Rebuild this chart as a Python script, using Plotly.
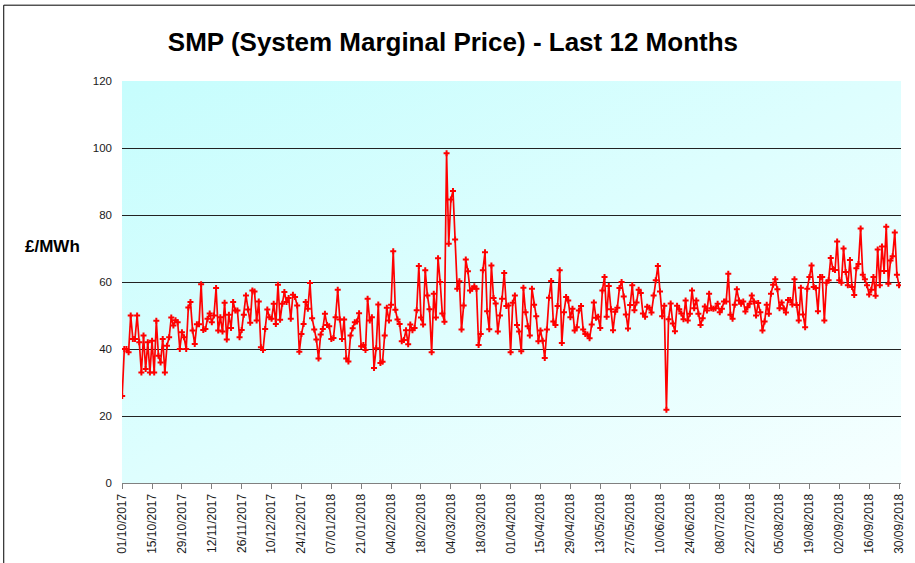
import base64
import pandas as pd
import plotly.graph_objects as go

start_date = "2017-10-01"

smp_values = [
    26, 40, 40, 39, 50, 43, 43, 50, 42, 33, 44, 34, 42, 33, 42.5, 33, 48.4, 38, 36, 43,
    33, 41, 43.5, 49.4, 47, 48.6, 48, 40, 45, 43.5, 40, 52.4, 54, 45.5, 41.5, 47.4, 47.4, 59.3, 45.7, 46,
    49, 50.6, 48, 50, 58.2, 45.5, 49.5, 45.2, 53.8, 42.8, 50.2, 46.3, 54, 51.5, 51.5, 43.5, 45.7, 50.2, 56, 51.8,
    47.8, 57.5, 57.2, 48.5, 54.2, 40.5, 39.7, 46, 51.8, 49.5, 49, 53.5, 47.5, 59.2, 48.7, 53.5, 57, 54, 55.2, 49,
    56.2, 55.5, 53, 39.2, 44.5, 47.5, 54, 52, 59.7, 49.2, 45.8, 42.8, 37.2, 44.3, 46, 50.5, 47.2, 46.8, 43, 43.3,
    49.5, 57.7, 48.8, 43, 48.8, 37.2, 36.3, 44, 46.2, 48, 48.2, 50.7, 40.8, 41.2, 39.7, 55, 48.5, 49.5, 34.3, 40.2,
    53.3, 35.8, 36.2, 44, 52.3, 48.5, 53.2, 69.2, 51.7, 48.8, 47.5, 42.3, 42.7, 45.6, 41.4, 47.3, 45.6, 46.3, 51.6, 64.8,
    49.4, 47.3, 63.5, 56, 51.9, 39, 56.5, 49.4, 67.1, 60, 50.6, 48.1, 98.4, 71.4, 84.6, 87.2, 72.7, 58, 60.2, 45.8,
    53, 66.7, 63.2, 57.5, 58, 58.7, 58, 41.2, 44.5, 63.5, 68.9, 51.3, 45.9, 64.9, 55.2, 53.6, 45.2, 50, 55, 62.7,
    52.8, 53, 39, 53.8, 56, 47.2, 45.2, 39.3, 58.3, 51, 46.8, 44, 58, 53.2, 49.8, 42.3, 45.5, 42.5, 37.3, 45.8,
    55.3, 60.3, 48.2, 47.2, 52.8, 63.5, 41.8, 51, 55.5, 54.5, 49.5, 52, 45.5, 46.5, 51.5, 52.8, 45.8, 44.5, 44.3, 43.2,
    47.3, 53.9, 49.3, 49.6, 46.3, 57.5, 61.5, 49.6, 58.8, 51.9, 45.6, 51.1, 52.3, 58.2, 60, 55.7, 50.3, 46.1, 53.1, 59,
    51.6, 53.9, 57.7, 56.7, 50.6, 49.6, 52.6, 52.3, 50.9, 56, 60.5, 64.8, 57.2, 49.8, 52.9, 21.9, 48.9, 53.6, 47.6, 45.3,
    52.9, 51.9, 50.6, 48.9, 54.5, 48.5, 50.5, 57.5, 52.2, 54.5, 50.5, 47.2, 49.2, 52.7, 51.5, 56.5, 52.2, 52, 52.2, 53.5,
    51, 52, 54.2, 54.2, 62.5, 50.2, 49, 53.2, 57.8, 54.5, 53.5, 54.2, 51.2, 52.5, 53.5, 56, 54.2, 50, 53.7, 51,
    45.5, 48.2, 53.2, 50.5, 56.5, 59.2, 60.8, 57.8, 52.2, 53.9, 52.1, 50.9, 54.6, 54.6, 53.3, 60.8, 53.1, 48.5, 58.3, 50.3,
    46.5, 58, 61.5, 64.9, 58.5, 58.2, 51.3, 61.5, 61.5, 48.5, 59.8, 60.5, 67.2, 63.9, 63.6, 72.1, 60.5, 59.8, 70, 63,
    59, 66.6, 58.5, 56.1, 64.1, 65.4, 76, 62.2, 60.8, 59, 56.3, 57.7, 61.5, 55.9, 69.7, 59, 70.6, 63.3, 76.5, 59.5,
    66.4, 67.7, 74.8, 62.2, 59,
]

tick_labels = [
    "01/10/2017", "15/10/2017", "29/10/2017", "12/11/2017", "26/11/2017", "10/12/2017",
    "24/12/2017", "07/01/2018", "21/01/2018", "04/02/2018", "18/02/2018", "04/03/2018",
    "18/03/2018", "01/04/2018", "15/04/2018", "29/04/2018", "13/05/2018", "27/05/2018",
    "10/06/2018", "24/06/2018", "08/07/2018", "22/07/2018", "05/08/2018", "19/08/2018",
    "02/09/2018", "16/09/2018", "30/09/2018",
]

y_ticks = [0, 20, 40, 60, 80, 100, 120]

title_text = "SMP (System Marginal Price) - Last 12 Months"
y_title = "£/MWh"

dates = pd.date_range(start_date, periods=len(smp_values), freq="D")
tick_vals = pd.to_datetime(tick_labels, format="%d/%m/%Y")

FONT = "Liberation Sans, Arial, sans-serif"

grad_svg = (
    '<svg xmlns="http://www.w3.org/2000/svg" width="784" height="403" '
    'viewBox="0 0 784 403" preserveAspectRatio="none">'
    '<defs><linearGradient id="g" x1="0" y1="0" x2="1" y2="1">'
    '<stop offset="0" stop-color="#C6FDFD"/>'
    '<stop offset="1" stop-color="#F6FFFF"/>'
    '</linearGradient></defs>'
    '<rect x="0" y="0" width="784" height="403" fill="url(#g)"/></svg>'
)
grad_src = "data:image/svg+xml;base64," + base64.b64encode(grad_svg.encode()).decode()

fig = go.Figure()
fig.add_trace(
    go.Scatter(
        x=dates,
        y=smp_values,
        mode="lines+markers",
        line=dict(color="#FF0000", width=1.7),
        marker=dict(symbol="cross", size=5, color="#FF0000", line=dict(width=0)),
        showlegend=False,
        hoverinfo="x+y",
    )
)

fig.update_layout(
    width=915,
    height=563,
    margin=dict(l=122, r=9, t=81, b=79),
    paper_bgcolor="white",
    plot_bgcolor="rgba(0,0,0,0)",
    font=dict(family=FONT, color="#1a1a1a"),
    title=dict(
        text=title_text,
        x=0.495,
        xref="container",
        xanchor="center",
        y=0.925,
        yref="container",
        yanchor="middle",
        font=dict(family=FONT, size=26, color="black", weight="bold"),
    ),
    images=[
        dict(
            source=grad_src,
            xref="paper",
            yref="paper",
            x=0,
            y=1,
            sizex=1,
            sizey=1,
            xanchor="left",
            yanchor="top",
            sizing="stretch",
            layer="below",
        )
    ],
    annotations=[
        dict(
            text="<b>" + y_title + "</b>",
            xref="paper",
            yref="paper",
            x=-0.089,
            y=0.588,
            xanchor="center",
            yanchor="middle",
            showarrow=False,
            font=dict(family=FONT, size=17, color="black"),
        )
    ],
    shapes=[
        dict(
            type="rect",
            xref="paper",
            yref="paper",
            x0=-0.1518,
            x1=1.03,
            y0=-0.3,
            y1=1.1886,
            line=dict(color="black", width=1),
            fillcolor="rgba(0,0,0,0)",
            layer="above",
        )
    ],
)

fig.update_xaxes(
    type="date",
    range=[dates[0] - pd.Timedelta(hours=2), dates[-1] + pd.Timedelta(hours=22)],
    tickmode="array",
    tickvals=tick_vals,
    ticktext=tick_labels,
    tickangle=-90,
    tickfont=dict(family=FONT, size=12, color="#1a1a1a"),
    ticks="outside",
    ticklen=5,
    tickcolor="#808080",
    showline=True,
    linecolor="#808080",
    linewidth=1,
    showgrid=False,
    zeroline=False,
)

fig.update_yaxes(
    range=[0, 120],
    tickmode="array",
    tickvals=y_ticks,
    ticktext=[str(v) for v in y_ticks],
    tickfont=dict(family=FONT, size=11.5, color="#1a1a1a"),
    showgrid=True,
    gridcolor="#222222",
    gridwidth=1,
    showline=False,
    zeroline=False,
    ticks="",
    ticklabelstandoff=9,
)

fig.write_html(
    "out.html",
    config={"displayModeBar": False},
    post_script="document.body.style.margin='0';document.body.style.padding='0';",
)
